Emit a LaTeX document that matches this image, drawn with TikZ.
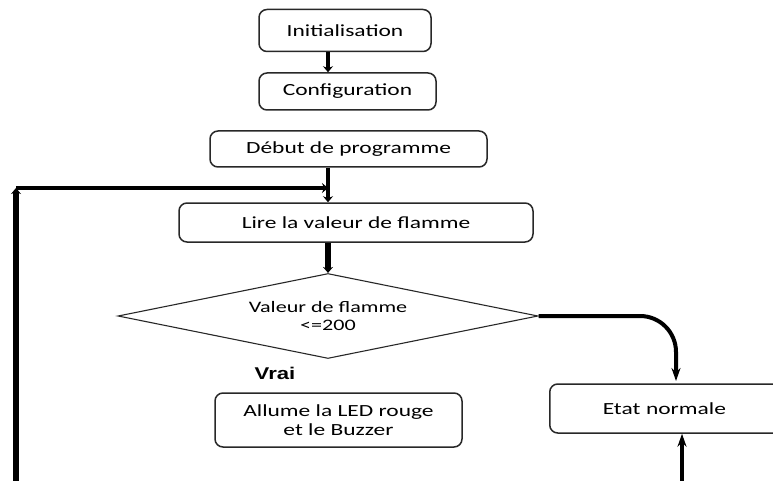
\documentclass[tikz,border=0pt]{standalone}
\usepackage{fontspec}
\setmainfont{Carlito}[FakeStretch=1.38]
\newfontfamily\vraifont{Liberation Sans}[FakeStretch=1.3]
\usepackage{tikz}
\usetikzlibrary{shapes.geometric,arrows.meta}
\definecolor{myline}{RGB}{40,40,40}

\begin{document}
\begin{tikzpicture}[
    x=1pt, y=-1pt,
    box/.style={rectangle, draw=myline, line width=1.5pt, rounded corners=8pt,
                align=center, font=\fontsize{17}{19}\selectfont},
    decision/.style={diamond, draw=myline, line width=1.1pt, aspect=5, inner sep=0pt,
                minimum width=420pt, minimum height=85pt, align=center,
                font=\fontsize{16}{18}\selectfont},
    arrow/.style={-{Stealth[length=6pt,width=10pt]}, line width=4.5pt},
    longarrow/.style={-{Stealth[length=13pt,width=9pt]}, line width=4pt}
]
    \useasboundingbox (0,0) rectangle (773,481);
    \clip (0,0) rectangle (773,481);
    \coordinate (axis) at (328,0);

    \node[box, minimum width=172pt, minimum height=42pt] (init) at (345,30.5) {Initialisation};
    \node[box, minimum width=177pt, minimum height=37pt] (config) at (347.5,91.5) {Configuration};
    \node[box, minimum width=277pt, minimum height=36pt] (debut) at (348.5,149) {Début de programme};
    \node[box, minimum width=354pt, minimum height=39pt] (lire) at (356,222.5) {Lire la valeur de flamme};
    \node[decision] (test) at (328,316) {Valeur de flamme\\<=200};
    \node[font=\vraifont\bfseries\fontsize{17}{19}\selectfont] (vrai) at (275,373) {Vrai};
    \node[box, minimum width=247pt, minimum height=54pt] (alarme) at (338.5,420) {Allume la LED rouge\\et le Buzzer};
    \node[box, anchor=west, minimum height=49pt, inner xsep=53pt, text width=134pt, align=left] (etat) at (549,408.5) {Etat normale};

    \coordinate (loopfoot) at (16,481);
    \coordinate (loopcorner) at (16,188);
    \coordinate (etattop) at (676,381);
    \coordinate (etatfoot) at (682,481);

    \draw[arrow] (init.south -| axis) -- (config.north -| axis);
    \draw[arrow] (debut.south -| axis) -- (lire.north -| axis);
    \draw[arrow, line width=6pt] (lire.south -| axis) -- (test.north);
    \draw[arrow, line width=5.5pt] (loopfoot) -- (loopcorner);
    \draw[arrow, line width=4pt] (loopcorner) -- (loopcorner -| axis);
    \draw[longarrow, rounded corners=36pt] (test.east) -| (etattop);
    \draw[longarrow] (etatfoot) -- (etatfoot |- etat.south);
\end{tikzpicture}
\end{document}
